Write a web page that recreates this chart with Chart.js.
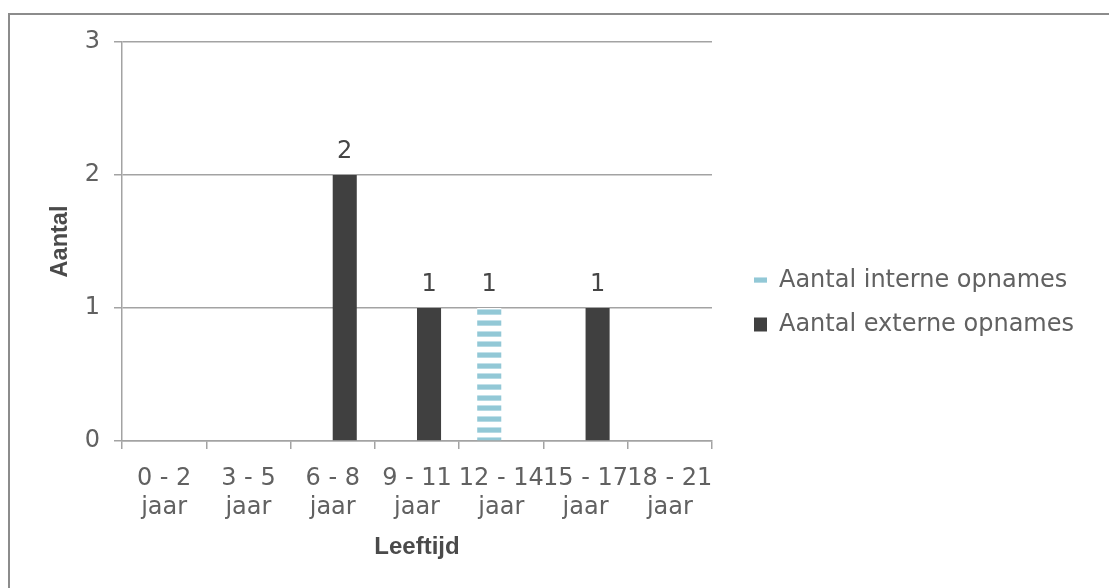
<!DOCTYPE html>
<html><head><meta charset="utf-8">
<script src="https://cdn.jsdelivr.net/npm/chart.js@4.4.0/dist/chart.umd.min.js"></script>
<style>
html,body{margin:0;padding:0;background:#fff;}
#wrap{position:relative;width:1109px;height:588px;overflow:hidden;background:#fff;}
#frame{position:absolute;left:8px;top:13px;width:1200px;height:700px;border-left:2px solid #8c8c8c;border-top:2px solid #8c8c8c;box-sizing:border-box;}
canvas{position:absolute;left:0;top:0;}
</style></head><body>
<div id="wrap"><div id="frame"></div><canvas id="c" width="1109" height="588"></canvas></div>
<script>
// ---- data ----
const categories = [['0 - 2','jaar'],['3 - 5','jaar'],['6 - 8','jaar'],['9 - 11','jaar'],['12 - 14','jaar'],['15 - 17','jaar'],['18 - 21','jaar']];
const interneOpnames = [0,0,0,0,1,0,0];
const externeOpnames = [0,0,2,1,0,1,0];
const seriesNames = ['Aantal interne opnames','Aantal externe opnames'];
const yMin = 0, yMax = 3, yStep = 1;
const xTitle = 'Leeftijd';
const yTitle = 'Aantal';

// ---- styles ----
const TXT = '#616161';
const GRID = '#a3a3a3';
const FONT = '"DejaVu Sans", sans-serif';
const TFONT = '"Liberation Sans", Arial, sans-serif';
const W = 1109;
const LEG_SIZE = 24, LEG_PAD = 20, LEG_BOX = 13;
const LEG_LEFT = 733;

function stripePattern(){
  const c = document.createElement('canvas');
  c.width = 8; c.height = 32;
  const g = c.getContext('2d');
  g.fillStyle = '#ffffff'; g.fillRect(0,0,8,32);
  [0,11,21].forEach(y0=>{
    g.fillStyle = '#c3e1ea'; g.fillRect(0,y0,8,1);
    g.fillStyle = '#92c8d6'; g.fillRect(0,y0+1,8,4);
    g.fillStyle = '#b6dae4'; g.fillRect(0,y0+5,8,1);
  });
  return document.getElementById('c').getContext('2d').createPattern(c,'repeat');
}

// legend width so that its left edge sits at LEG_LEFT
const mctx = document.createElement('canvas').getContext('2d');
mctx.font = 'normal normal ' + LEG_SIZE + 'px ' + FONT;
const textW = Math.max(...seriesNames.map(s => mctx.measureText(s).width));
const legendW = Math.ceil(LEG_PAD + LEG_BOX + LEG_SIZE/2 + textW + 10);
const padRight = Math.max(0, W - LEG_LEFT - legendW);

const valueLabels = {
  id:'valueLabels',
  afterDatasetsDraw(chart){
    const ctx = chart.ctx;
    ctx.save();
    ctx.font = 'normal 24px ' + FONT;
    ctx.fillStyle = '#454545';
    ctx.textAlign = 'center';
    ctx.textBaseline = 'alphabetic';
    chart.data.datasets.forEach((ds,di)=>{
      const meta = chart.getDatasetMeta(di);
      meta.data.forEach((el,i)=>{
        const v = ds.data[i];
        if(!v) return;
        ctx.fillText(String(v), el.x, el.y - 17);
      });
    });
    ctx.restore();
  }
};

new Chart(document.getElementById('c'), {
  type:'bar',
  data:{
    labels: categories,
    datasets:[
      {label: seriesNames[0], data: interneOpnames, backgroundColor: stripePattern(), borderWidth:0},
      {label: seriesNames[1], data: externeOpnames, backgroundColor: '#404040', borderWidth:0}
    ]
  },
  options:{
    responsive:false,
    animation:false,
    devicePixelRatio:1,
    datasets:{bar:{categoryPercentage:0.571, barPercentage:1.0}},
    layout:{padding:{left:0, top:42, right:padRight, bottom:25}},
    plugins:{
      tooltip:{enabled:false},
      legend:{
        position:'right',
        maxWidth: legendW,
        labels:{
          boxWidth:LEG_BOX, boxHeight:14, padding:LEG_PAD,
          color:TXT,
          font:{family:FONT, size:LEG_SIZE, weight:'normal'}
        }
      }
    },
    scales:{
      x:{
        grid:{display:true, drawOnChartArea:false, drawTicks:true, tickLength:8, color:GRID, lineWidth:1.5, offset:true},
        border:{display:true, color:GRID, width:1.5},
        ticks:{color:TXT, padding:15, maxRotation:0, autoSkip:false, font:{family:FONT, size:24, weight:'normal', lineHeight:1.22}},
        title:{display:true, text:xTitle, color:'#4a4a4a', font:{family:TFONT, size:24, weight:'bold', lineHeight:1.2}, padding:{top:0,bottom:1}},
        afterFit(s){ s.height = 122; }
      },
      y:{
        min:yMin, max:yMax,
        grid:{color:GRID, lineWidth:1.5, tickLength:8, drawTicks:true},
        border:{display:true, color:GRID, width:1.5},
        ticks:{stepSize:yStep, color:TXT, padding:14, font:{family:FONT, size:24, weight:'normal'}},
        title:{display:true, text:yTitle, color:'#4a4a4a', font:{family:TFONT, size:23.5, weight:'bold', lineHeight:1.2}, padding:{top:46,bottom:0}},
        afterFit(s){ s.width = 122; }
      },
      gap:{
        type:'linear', position:'right', display:true,
        grid:{display:false}, border:{display:false}, ticks:{display:false},
        afterFit(s){ s.width = 22; }
      }
    }
  },
  plugins:[valueLabels]
});
</script>
</body></html>
